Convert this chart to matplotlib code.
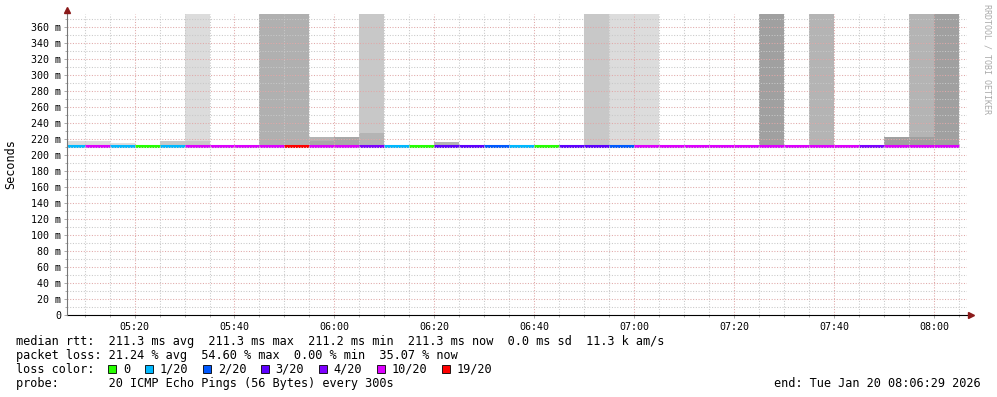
import numpy as np
import matplotlib
matplotlib.use("Agg")
import matplotlib.pyplot as plt
from matplotlib.patches import Rectangle
from matplotlib.ticker import MultipleLocator, FuncFormatter

W, H = 997, 397
nan = np.nan

# one entry per 5 minute step (end time of the step)
steps = ["05:10", "05:15", "05:20", "05:25", "05:30", "05:35", "05:40", "05:45",
         "05:50", "05:55", "06:00", "06:05", "06:10", "06:15", "06:20", "06:25",
         "06:30", "06:35", "06:40", "06:45", "06:50", "06:55", "07:00", "07:05",
         "07:10", "07:15", "07:20", "07:25", "07:30", "07:35", "07:40", "07:45",
         "07:50", "07:55", "08:00", "08:05"]
# lost pings out of 20
loss = [1, 10, 1, 0, 1, 10, 10, 10, 10, 19, 10, 10, 4, 1, 0, 3,
        3, 2, 1, 0, 3, 3, 2, 10, 10, 10, 10, 10, 10, 10, 10, 10,
        4, 10, 10, 10]
# median rtt, ms
median = [211.3, 211.3, 211.3, 211.2, 211.3, 211.3, 211.3, 211.3, 211.3, 211.3, 211.3, 211.3,
          211.3, 211.3, 211.2, 211.3, 211.3, 211.3, 211.3, 211.2, 211.3, 211.3, 211.3, 211.3,
          211.3, 211.3, 211.3, 211.3, 211.3, 211.3, 211.3, 211.3, 211.3, 211.3, 211.3, 211.3]
# smoke: low band top and tall band top, ms (nan = none)
smoke_lo = [217, 217, 214.5, nan, 217, 217, nan, nan, nan, nan, 218, 222,
            228, nan, nan, 216.5, nan, nan, nan, nan, nan, nan, nan, nan,
            nan, nan, nan, nan, nan, nan, nan, nan, nan, 223, 223, nan]
smoke_lo_shade = ["#dddddd", "#dddddd", "#dddddd", "", "#c8c8c8", "#c8c8c8", "", "", "", "", "#a8a8a8", "#a8a8a8",
                  "#b4b4b4", "", "", "#b4b4b4", "", "", "", "", "", "", "", "",
                  "", "", "", "", "", "", "", "", "", "#a0a0a0", "#a0a0a0", ""]
smoke_hi = [nan, nan, nan, nan, nan, 420, nan, nan, 420, 420, 222.5, nan,
            420, nan, nan, nan, nan, nan, nan, nan, nan, 420, 420, 420,
            nan, nan, nan, nan, 420, nan, 420, nan, nan, nan, 420, 420]
smoke_hi_shade = ["", "", "", "", "", "#dcdcdc", "", "", "#b0b0b0", "#b0b0b0", "#b4b4b4", "",
                  "#c8c8c8", "", "", "", "", "", "", "", "", "#c8c8c8", "#dcdcdc", "#dcdcdc",
                  "", "", "", "", "#a0a0a0", "", "#b4b4b4", "", "", "", "#b4b4b4", "#a0a0a0"]

loss_levels = [0, 1, 2, 3, 4, 10, 19]
loss_labels = ["0", "1/20", "2/20", "3/20", "4/20", "10/20", "19/20"]
loss_colors = ["#26ff00", "#00b8ff", "#0059ff", "#5e00ff", "#7e00ff", "#dd00ff", "#ff0000"]
color_of = dict(zip(loss_levels, loss_colors))

t_end = np.array([int(s[:2]) * 60 + int(s[3:]) for s in steps], dtype=float)
t_start = t_end - 5
med = np.array(median) / 1000.0
base = 0.210

fig = plt.figure(figsize=(W / 100, H / 100), dpi=100)
ax = fig.add_axes([67 / W, 82 / H, 899.5 / W, 300.5 / H])

# smoke bands
hi = np.array(smoke_hi) / 1000.0
m = ~np.isnan(hi)
ax.bar(t_start[m], hi[m] - base, bottom=base, width=5, align="edge",
       color=[c for c, k in zip(smoke_hi_shade, m) if k], linewidth=0, zorder=1)
lo = np.array(smoke_lo) / 1000.0
m = ~np.isnan(lo)
ax.bar(t_start[m], lo[m] - base, bottom=base, width=5, align="edge",
       color=[c for c, k in zip(smoke_lo_shade, m) if k], linewidth=0, zorder=1.1)

# median line coloured by loss
ax.hlines(med, t_start, t_end, colors=[color_of[l] for l in loss], lw=2.2,
          capstyle="butt", zorder=2)

x0 = 5 * 60 + 6 + 29 / 60
ax.set_xlim(x0, x0 + 180)
ax.set_ylim(0, 0.3756)

ax.xaxis.set_major_locator(MultipleLocator(20))
ax.xaxis.set_minor_locator(MultipleLocator(5))
ax.yaxis.set_major_locator(MultipleLocator(0.02))
ax.yaxis.set_minor_locator(MultipleLocator(0.01))
ax.xaxis.set_major_formatter(FuncFormatter(lambda v, p: "%02d:%02d" % (int(v) // 60, int(v) % 60)))
ax.yaxis.set_major_formatter(FuncFormatter(lambda v, p: "0" if v < 1e-9 else "%d m" % round(v * 1000)))

ax.set_axisbelow(False)
ax.grid(which="minor", color="#c8c8c8", ls=(0, (1, 1.6)), lw=0.75)
ax.grid(which="major", color="#e0a8a8", ls=(0, (1, 1.6)), lw=0.75)

mono = "DejaVu Sans Mono"
for lab in ax.get_xticklabels() + ax.get_yticklabels():
    lab.set_fontfamily(mono)
    lab.set_fontsize(7.2)
ax.tick_params(axis="both", which="both", direction="out", color="#aaaaaa", width=0.7)
ax.tick_params(axis="y", which="major", length=2.5, pad=1.8)
ax.tick_params(axis="y", which="minor", length=1.5)
ax.tick_params(axis="x", which="major", length=2, pad=3)
ax.tick_params(axis="x", which="minor", length=1.5)

for s in ax.spines.values():
    s.set_visible(False)
ax.plot([0, 1.002], [0, 0], transform=ax.transAxes, color="black", lw=0.8, clip_on=False, zorder=3)
ax.plot([1.0045], [0], transform=ax.transAxes, marker=">", ms=4, color="#8b1a1a", clip_on=False, zorder=3)
ax.plot([0, 0], [0, 1.01], transform=ax.transAxes, color="#777777", lw=0.8, clip_on=False, zorder=3)
ax.plot([0], [1.015], transform=ax.transAxes, marker="^", ms=4, color="#8b1a1a", clip_on=False, zorder=3)


def fx(x):
    return x / W


def fy(y):
    return 1 - y / H


fig.text(fx(11), fy(164), "Seconds", rotation=90, ha="center", va="center",
         fontfamily=mono, fontsize=8.5)
fig.text(fx(987), fy(4), "RRDTOOL / TOBI OETIKER", rotation=270, ha="center", va="top",
         fontfamily=mono, fontsize=6, color="#aaaaaa")

legend_lines = [
    "median rtt:  211.3 ms avg  211.3 ms max  211.2 ms min  211.3 ms now  0.0 ms sd  11.3 k am/s",
    "packet loss: 21.24 % avg  54.60 % max  0.00 % min  35.07 % now",
    "loss color:",
    "probe:       20 ICMP Echo Pings (56 Bytes) every 300s",
]
baselines = [345, 359, 373, 387]
for txt, yb in zip(legend_lines, baselines):
    fig.text(fx(16), fy(yb), txt, ha="left", va="baseline", fontfamily=mono, fontsize=8.52)

cw = 7.1
cx = 108
for lab, col in zip(loss_labels, loss_colors):
    fig.patches.append(Rectangle((fx(cx), fy(373)), 8 / W, 8 / H, transform=fig.transFigure,
                                 facecolor=col, edgecolor="black", lw=0.6))
    fig.text(fx(cx + 15), fy(373), lab, ha="left", va="baseline", fontfamily=mono, fontsize=8.52)
    cx += 15 + len(lab) * cw + 14.6

fig.text(fx(981), fy(387), "end: Tue Jan 20 08:06:29 2026", ha="right", va="baseline",
         fontfamily=mono, fontsize=8.52)

fig.savefig("out.png", dpi=100, facecolor="white")
